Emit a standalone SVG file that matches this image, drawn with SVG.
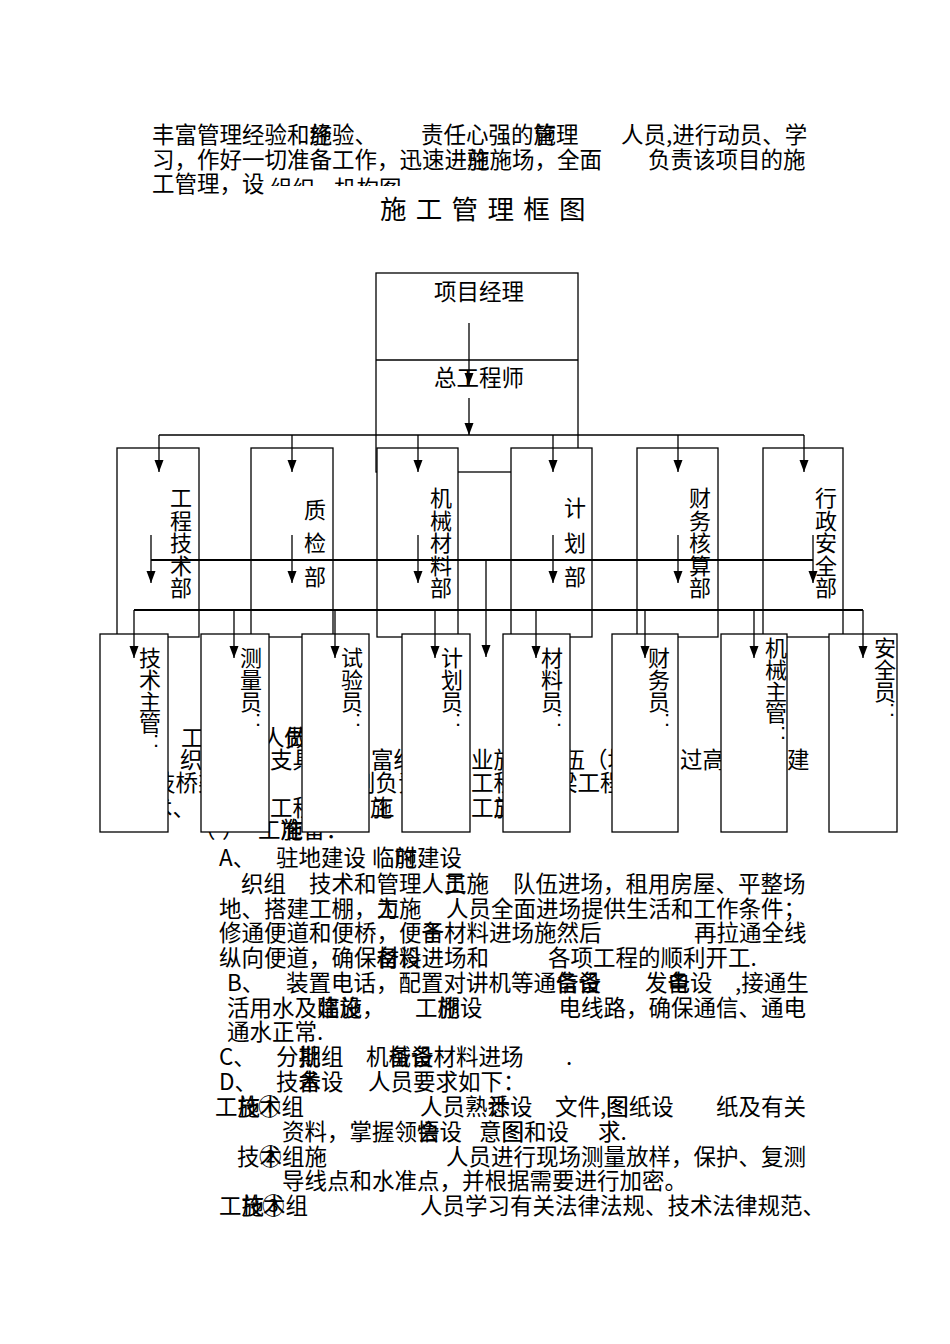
<svg xmlns="http://www.w3.org/2000/svg" width="950" height="1344" viewBox="0 0 950 1344">
<style>
.t{font-family:"Noto Sans CJK SC","Liberation Sans",sans-serif;font-size:22.5px;fill:#000}
.ti{font-family:"Noto Sans CJK SC",sans-serif;font-size:26.5px;letter-spacing:9.3px;fill:#000}
.v{font-family:"Noto Sans CJK SC",sans-serif;font-size:22px;text-anchor:middle;fill:#000}
.c{font-family:"Liberation Sans",sans-serif;font-size:22px;text-anchor:middle;fill:#000}
.box{fill:#fff;stroke:#000;stroke-width:1.3}
.ln{stroke:#000;stroke-width:1.3;fill:none}
.bus{stroke:#000;stroke-width:2;fill:none}
.ar{stroke:#000;stroke-width:1.3;fill:none;marker-end:url(#ah)}
</style>
<defs>
<marker id="ah" markerUnits="userSpaceOnUse" markerWidth="12" markerHeight="10" refX="12" refY="4.5" orient="auto">
<path d="M0,0 L12,4.5 L0,9 z" fill="#000"/>
</marker>
</defs>
<rect width="950" height="1344" fill="#fff"/>

<!-- intro text -->
<g id="intro">
<text class="t" x="152" y="143">丰富管理经验和施验、</text>
<text class="t" x="309.5" y="143">经</text>
<text class="t" x="421" y="143">责任心强的管理</text>
<text class="t" x="533.5" y="143">施</text>
<text class="t" x="621" y="143">人员,进行动员、学</text>
<text class="t" x="152" y="168">习，作好一切准备工作，迅速进驻施场，全面</text>
<text class="t" x="467" y="168">施</text>
<text class="t" x="648" y="168">负责该项目的施</text>
<text class="t" x="152" y="192">工管理，设</text>
<text class="t" x="270" y="197">组织</text>
<text class="t" x="334" y="197">机构图</text>
<rect x="266" y="186" width="430" height="44" fill="#fff"/>
<text class="ti" x="380" y="219">施工管理框图</text>
</g>

<!-- hidden text behind staff boxes -->
<g id="behind">
<text class="t" x="158" y="746">、</text>
<text class="t" x="181" y="746">工</text>
<text class="t" x="262" y="746">人员</text>
<text class="t" x="284.5" y="746">做</text>
<text class="t" x="180" y="768">织</text>
<text class="t" x="270" y="768">支具</text>
<text class="t" x="371" y="768">富经</text>
<text class="t" x="471" y="768">业施</text>
<text class="t" x="540" y="768">队伍（均</text>
<text class="t" x="680" y="768">过高速</text>
<text class="t" x="787" y="768">建</text>
<text class="t" x="153" y="791">技桥梁</text>
<text class="t" x="353" y="791">则负责</text>
<text class="t" x="471" y="791">工程</text>
<text class="t" x="555" y="791">梁工程</text>
<text class="t" x="150" y="816">术、</text>
<text class="t" x="270" y="816">工程施</text>
<text class="t" x="370" y="816">施</text>
<text class="t" x="372" y="816">工</text>
<text class="t" x="471" y="816">工施</text>
<text class="t" x="493.5" y="816">工</text>
<text class="t" x="193" y="838">（</text>
<text class="t" x="222" y="838">）</text>
<text class="t" x="258" y="838">工施备：</text>
<text class="t" x="280.5" y="838">准</text>
</g>

<!-- lower body text -->
<g id="body">
<text class="t" x="219" y="866">A、</text>
<text class="t" x="276" y="866">驻地建设</text>
<text class="t" x="372" y="866">临时建设</text>
<text class="t" x="394.5" y="866">施</text>
<text class="t" x="241" y="892">织组</text>
<text class="t" x="309" y="892">技术和管理人员施</text>
<text class="t" x="444" y="892">工</text>
<text class="t" x="513" y="892">队伍进场，租用房屋、平整场</text>
<text class="t" x="219" y="917">地、搭建工棚，为施</text>
<text class="t" x="377" y="917">工</text>
<text class="t" x="446" y="917">人员全面进场提供生活和工作条件；</text>
<text class="t" x="219" y="941">修通便道和便桥，便备材料进场施然后</text>
<text class="t" x="421.5" y="941">于</text>
<text class="t" x="694" y="941">再拉通全线</text>
<text class="t" x="219" y="966">纵向便道，确保材料进场和</text>
<text class="t" x="376.5" y="966">备</text>
<text class="t" x="399" y="966">设</text>
<text class="t" x="548" y="966">各项工程的顺利开工.</text>
<text class="t" x="227" y="991">B、</text>
<text class="t" x="286" y="991">装置电话，配置对讲机等通备设</text>
<text class="t" x="556" y="991">信</text>
<text class="t" x="578.5" y="991">备</text>
<text class="t" x="645" y="991">发电设</text>
<text class="t" x="667.5" y="991">备</text>
<text class="t" x="735" y="991">,接通生</text>
<text class="t" x="227" y="1016">活用水及建设，</text>
<text class="t" x="317" y="1016">临</text>
<text class="t" x="339.5" y="1016">施</text>
<text class="t" x="415" y="1016">工施设</text>
<text class="t" x="437.5" y="1016">棚</text>
<text class="t" x="558.5" y="1016">电线路，确保通信、通电</text>
<text class="t" x="227" y="1040">通水正常.</text>
<text class="t" x="219" y="1065">C、</text>
<text class="t" x="276" y="1065">分批组</text>
<text class="t" x="298.5" y="1065">期</text>
<text class="t" x="366" y="1065">机械设材料进场</text>
<text class="t" x="388.5" y="1065">备</text>
<text class="t" x="411" y="1065">备</text>
<text class="t" x="566" y="1065">.</text>
<text class="t" x="219" y="1090">D、</text>
<text class="t" x="276" y="1090">技备设</text>
<text class="t" x="298.5" y="1090">术</text>
<text class="t" x="368" y="1090">人员要求如下：</text>
<text class="t" x="215" y="1115">工施</text>
<text class="t" x="237.5" y="1115">技</text>
<text class="t" x="259" y="1115">术组</text>
<text class="t" x="258" y="1115" fill="#777">①</text>
<text class="t" x="420" y="1115">人员熟悉设</text>
<text class="t" x="487.5" y="1115">计</text>
<text class="t" x="555" y="1115">文件,图纸设</text>
<text class="t" x="606" y="1115">图</text>
<text class="t" x="716" y="1115">纸及有关</text>
<text class="t" x="282" y="1140">资料，掌握领会设</text>
<text class="t" x="417" y="1140">悟</text>
<text class="t" x="479" y="1140">意图和设</text>
<text class="t" x="501.5" y="1140">图</text>
<text class="t" x="598" y="1140">求.</text>
<text class="t" x="237" y="1165">技术组施</text>
<text class="t" x="259" y="1165" fill="#777">②</text>
<text class="t" x="446" y="1165">人员进行现场测量放样，保护、复测</text>
<text class="t" x="282" y="1189">导线点和水准点，并根据需要进行加密。</text>
<text class="t" x="219" y="1214">工施</text>
<text class="t" x="241.5" y="1214">技</text>
<text class="t" x="263" y="1214">术组</text>
<text class="t" x="262" y="1214" fill="#777">③</text>
<text class="t" x="420" y="1214">人员学习有关法律法规、技术法律规范、</text>
</g>

<!-- top node -->
<g id="top">
<rect class="box" x="376" y="273" width="202" height="199"/>
<line class="ln" x1="376" y1="360" x2="578" y2="360"/>
<text class="t" x="434" y="300">项目经理</text>
<text class="t" x="434" y="386">总工程师</text>
</g>

<!-- departments -->
<g id="dept-gcjs">
<rect class="box" x="117" y="448" width="82" height="189"/>
<text class="v"><tspan x="181" y="506">工</tspan><tspan x="181" y="528.5">程</tspan><tspan x="181" y="551">技</tspan><tspan x="181" y="573.5">术</tspan><tspan x="181" y="596">部</tspan></text>
</g>
<g id="dept-zj">
<rect class="box" x="251" y="448" width="82" height="189"/>
<text class="v"><tspan x="315" y="518">质</tspan><tspan x="315" y="551">检</tspan><tspan x="315" y="585">部</tspan></text>
</g>
<g id="dept-jxcl">
<rect class="box" x="377" y="448" width="81" height="189"/>
<text class="v"><tspan x="441" y="506">机</tspan><tspan x="441" y="528.5">械</tspan><tspan x="441" y="551">材</tspan><tspan x="441" y="573.5">料</tspan><tspan x="441" y="596">部</tspan></text>
</g>
<g id="dept-jh">
<rect class="box" x="511" y="448" width="81" height="189"/>
<text class="v"><tspan x="575" y="516">计</tspan><tspan x="575" y="551">划</tspan><tspan x="575" y="585">部</tspan></text>
</g>
<g id="dept-cwhs">
<rect class="box" x="637" y="448" width="81" height="189"/>
<text class="v"><tspan x="700" y="506">财</tspan><tspan x="700" y="528.5">务</tspan><tspan x="700" y="551">核</tspan><tspan x="700" y="573.5">算</tspan><tspan x="700" y="596">部</tspan></text>
</g>
<g id="dept-xzaq">
<rect class="box" x="763" y="448" width="80" height="189"/>
<text class="v"><tspan x="826" y="506">行</tspan><tspan x="826" y="528.5">政</tspan><tspan x="826" y="551">安</tspan><tspan x="826" y="573.5">全</tspan><tspan x="826" y="596">部</tspan></text>
</g>

<!-- staff -->
<g id="staff-jszg">
<rect class="box" x="100" y="634" width="68" height="198"/>
<text class="v"><tspan x="150" y="666">技</tspan><tspan x="150" y="688">术</tspan><tspan x="150" y="710">主</tspan><tspan x="150" y="731">管</tspan></text>
<text class="c" x="156" y="747">:</text>
</g>
<g id="staff-cly">
<rect class="box" x="201" y="634" width="68" height="198"/>
<text class="v"><tspan x="251" y="666">测</tspan><tspan x="251" y="688">量</tspan><tspan x="251" y="710">员</tspan></text>
<text class="c" x="258" y="726">:</text>
</g>
<g id="staff-syy">
<rect class="box" x="302" y="634" width="67" height="198"/>
<text class="v"><tspan x="352" y="666">试</tspan><tspan x="352" y="688">验</tspan><tspan x="352" y="710">员</tspan></text>
<text class="c" x="358" y="726">:</text>
</g>
<g id="staff-jhy">
<rect class="box" x="402" y="634" width="68" height="198"/>
<text class="v"><tspan x="452" y="666">计</tspan><tspan x="452" y="688">划</tspan><tspan x="452" y="710">员</tspan></text>
<text class="c" x="458" y="726">:</text>
</g>
<g id="staff-cly2">
<rect class="box" x="503" y="634" width="67" height="198"/>
<text class="v"><tspan x="552" y="666">材</tspan><tspan x="552" y="688">料</tspan><tspan x="552" y="710">员</tspan></text>
<text class="c" x="559" y="726">:</text>
</g>
<g id="staff-cwy">
<rect class="box" x="612" y="634" width="66" height="198"/>
<text class="v"><tspan x="659" y="666">财</tspan><tspan x="659" y="688">务</tspan><tspan x="659" y="710">员</tspan></text>
<text class="c" x="667" y="726">:</text>
</g>
<g id="staff-jxzg">
<rect class="box" x="721" y="634" width="66" height="198"/>
<text class="v"><tspan x="776" y="656">机</tspan><tspan x="776" y="678">械</tspan><tspan x="776" y="700">主</tspan><tspan x="776" y="721">管</tspan></text>
<text class="c" x="783" y="739">:</text>
</g>
<g id="staff-aqy">
<rect class="box" x="829" y="634" width="68" height="198"/>
<text class="v"><tspan x="885" y="656">安</tspan><tspan x="885" y="678">全</tspan><tspan x="885" y="700">员</tspan></text>
<text class="c" x="892" y="716">:</text>
</g>

<!-- connectors -->
<g id="connectors">
<line class="ar" x1="469" y1="323" x2="469" y2="385"/>
<line class="ar" x1="469" y1="398" x2="469" y2="435"/>
<line class="ln" x1="159" y1="435" x2="804" y2="435"/>
<line class="ar" x1="159" y1="435" x2="159" y2="472"/>
<line class="ar" x1="292" y1="435" x2="292" y2="472"/>
<line class="ar" x1="418" y1="435" x2="418" y2="472"/>
<line class="ar" x1="553" y1="435" x2="553" y2="472"/>
<line class="ar" x1="678" y1="435" x2="678" y2="472"/>
<line class="ar" x1="804" y1="435" x2="804" y2="472"/>
<line class="bus" x1="151" y1="560" x2="813" y2="560"/>
<line class="ar" x1="151" y1="535" x2="151" y2="583"/>
<line class="ar" x1="292" y1="535" x2="292" y2="583"/>
<line class="ar" x1="418" y1="535" x2="418" y2="583"/>
<line class="ar" x1="553" y1="535" x2="553" y2="583"/>
<line class="ar" x1="678" y1="535" x2="678" y2="583"/>
<line class="ar" x1="813" y1="535" x2="813" y2="583"/>
<line class="ar" x1="486" y1="560" x2="486" y2="657"/>
<line class="bus" x1="134" y1="610" x2="863" y2="610"/>
<line class="ar" x1="134" y1="610" x2="134" y2="658"/>
<line class="ar" x1="234" y1="610" x2="234" y2="658"/>
<line class="ar" x1="335" y1="610" x2="335" y2="658"/>
<line class="ar" x1="435" y1="610" x2="435" y2="658"/>
<line class="ar" x1="536" y1="610" x2="536" y2="658"/>
<line class="ar" x1="645" y1="610" x2="645" y2="658"/>
<line class="ar" x1="754" y1="610" x2="754" y2="658"/>
<line class="ar" x1="863" y1="610" x2="863" y2="658"/>
</g>
</svg>
